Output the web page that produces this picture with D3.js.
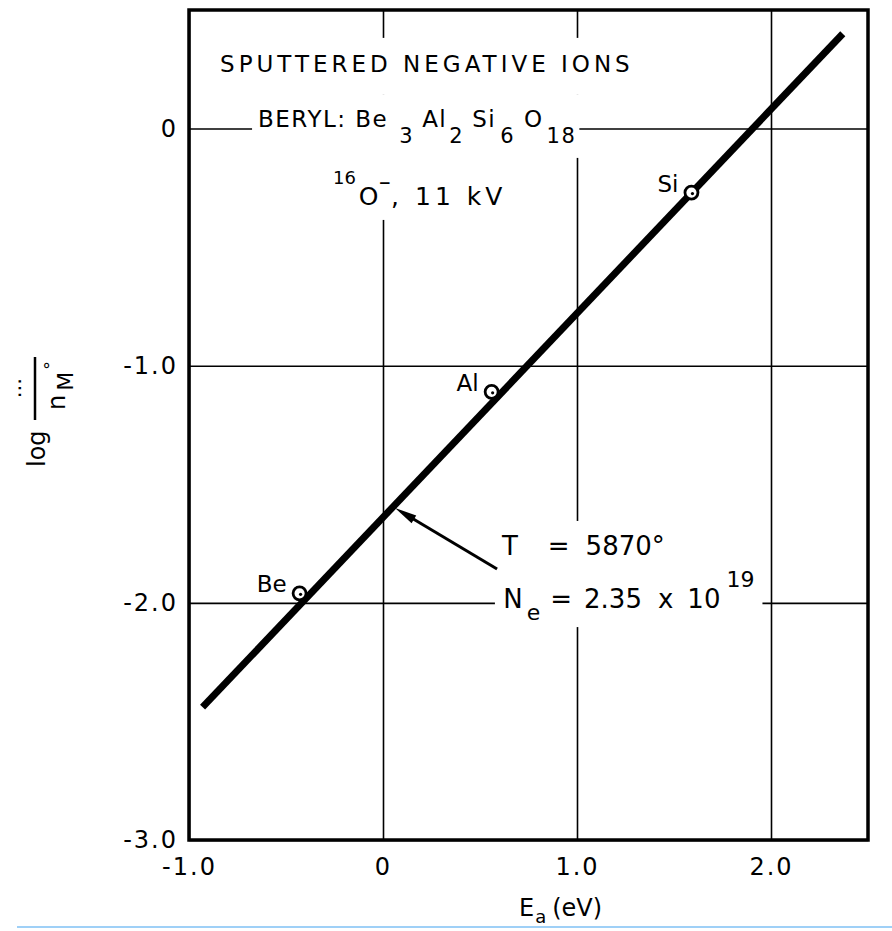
<!DOCTYPE html>
<html>
<head>
<meta charset="utf-8">
<script src="https://cdn.jsdelivr.net/npm/d3@7"></script>
<style>
body { margin: 0; background: #fff; }
svg text { font-family: "DejaVu Sans", sans-serif; fill: #000; }
</style>
</head>
<body>
<div id="container"></div>
<script>
var width = 892;
var height = 931;
var margin = {top: 10, right: 24, bottom: 91, left: 189};

// data
var ions = ["Be", "Al", "Si"];
var electronAffinity = [-0.43, 0.56, 1.59];
var logRatio = [-1.96, -1.11, -0.27];
var fitEa = [-0.93, 2.37];
var fitLog = [-2.44, 0.40];
var xTicks = [-1, 0, 1, 2];
var xTickLabels = ["-1.0", "0", "1.0", "2.0"];
var yTicks = [0, -1, -2, -3];
var yTickLabels = ["0", "-1.0", "-2.0", "-3.0"];

var svg = d3.select("#container").append("svg")
    .attr("width", width)
    .attr("height", height);

svg.append("rect").attr("width", width).attr("height", height).attr("fill", "#fff");

var x = d3.scaleLinear().domain([-1, 2.5]).range([margin.left, width - margin.right]);
var y = d3.scaleLinear().domain([-3, 0.5]).range([height - margin.bottom, margin.top]);
var plotW = x.range()[1] - x.range()[0];
var plotH = y.range()[0] - y.range()[1];

// grid + tick labels
var xAxis = svg.append("g")
    .attr("transform", "translate(0," + y(-3) + ")")
    .call(d3.axisBottom(x).tickValues(xTicks)
        .tickFormat(function(d, i) { return xTickLabels[i]; })
        .tickSize(-plotH).tickPadding(18));
var yAxis = svg.append("g")
    .attr("transform", "translate(" + x(-1) + ",0)")
    .call(d3.axisLeft(y).tickValues(yTicks)
        .tickFormat(function(d, i) { return yTickLabels[i]; })
        .tickSize(-plotW).tickPadding(11));
[xAxis, yAxis].forEach(function(a) {
    a.select(".domain").remove();
    a.attr("color", "#000");
    a.selectAll("line").attr("stroke-width", 1.6);
    a.selectAll("text").style("font-size", "24px").style("letter-spacing", "2px");
});

// white boxes behind annotations (they break the grid)
var maskLayer = svg.append("g");
var textLayer = svg.append("g");
function maskBehind(nodes, pad) {
    var b = nodes.map(function(n) { return n.node().getBBox(); });
    var x0 = d3.min(b, function(d) { return d.x; }) - pad[0];
    var x1 = d3.max(b, function(d) { return d.x + d.width; }) + pad[1];
    var y0 = d3.min(b, function(d) { return d.y; }) - pad[2];
    var y1 = d3.max(b, function(d) { return d.y + d.height; }) + pad[3];
    maskLayer.append("rect")
        .attr("x", x0).attr("y", y0)
        .attr("width", x1 - x0).attr("height", y1 - y0)
        .attr("fill", "#fff");
}

// title block
var t1 = textLayer.append("text")
    .attr("x", x(-0.84)).attr("y", y(0.239))
    .style("font-size", "23px").style("letter-spacing", "4px")
    .text("SPUTTERED NEGATIVE IONS");

var t2 = textLayer.append("text")
    .attr("x", x(-0.644)).attr("y", y(0.007))
    .style("font-size", "23px").style("letter-spacing", "1.5px");
t2.append("tspan").text("BERYL: Be");
t2.append("tspan").attr("dx", 11).attr("dy", 16).style("font-size", "21px").text("3");
t2.append("tspan").attr("dx", 8).attr("dy", -16).text("Al");
t2.append("tspan").attr("dx", 2).attr("dy", 16).style("font-size", "21px").text("2");
t2.append("tspan").attr("dx", 8).attr("dy", -16).text("Si");
t2.append("tspan").attr("dx", 4).attr("dy", 16).style("font-size", "21px").text("6");
t2.append("tspan").attr("dx", 9).attr("dy", -16).text("O");
t2.append("tspan").attr("dx", 3).attr("dy", 16).style("font-size", "21px").text("18");

var t3 = textLayer.append("text")
    .attr("x", x(-0.258)).attr("y", y(-0.322))
    .style("font-size", "25px");
t3.append("tspan").attr("dy", -21).style("font-size", "18px").text("16");
t3.append("tspan").attr("dx", 3).attr("dy", 21).text("O");
t3.append("tspan").attr("dx", 0).attr("dy", -17).style("font-size", "15px").style("font-weight", "bold").text("\u2212");
t3.append("tspan").attr("dy", 17).style("letter-spacing", "4px").text(", 11 kV");

maskBehind([t1], [8, 8, 13, 18]);
maskBehind([t2], [6, 3, 11, 10]);
maskBehind([t3], [8, 8, 13, 9]);

// fit annotation
var a1 = textLayer.append("text")
    .attr("x", x(0.613)).attr("y", y(-1.798))
    .style("font-size", "26px");
a1.append("tspan").text("T");
a1.append("tspan").attr("dx", 30).text("=");
a1.append("tspan").attr("dx", 16).text("5870\u00b0");

var a2 = textLayer.append("text")
    .attr("x", x(0.62)).attr("y", y(-2.022))
    .style("font-size", "26px");
a2.append("tspan").text("N");
a2.append("tspan").attr("dx", 4).attr("dy", 12).style("font-size", "22px").text("e");
a2.append("tspan").attr("dx", 10).attr("dy", -12).text("=");
a2.append("tspan").attr("dx", 12).text("2.35");
a2.append("tspan").attr("dx", 16).text("x");
a2.append("tspan").attr("dx", 14).text("10");
a2.append("tspan").attr("dx", 6).attr("dy", -21).style("font-size", "22px").text("19");

maskBehind([a1, a2], [6, 8, 10, 2]);

// arrow from annotation to the fit line
var arrowTail = [0.588, -1.857];
var arrowHead = [0.062, -1.60];
var hx = x(arrowHead[0]), hy = y(arrowHead[1]);
var tx = x(arrowTail[0]), ty = y(arrowTail[1]);
var ang = Math.atan2(ty - hy, tx - hx);
var headLen = 22, headHalf = 4.5;
svg.append("line")
    .attr("x1", tx).attr("y1", ty)
    .attr("x2", hx + Math.cos(ang) * 15).attr("y2", hy + Math.sin(ang) * 15)
    .attr("stroke", "#000").attr("stroke-width", 3);
svg.append("path")
    .attr("d", "M" + hx + "," + hy +
        "L" + (hx + Math.cos(ang) * headLen - Math.sin(ang) * headHalf) + "," + (hy + Math.sin(ang) * headLen + Math.cos(ang) * headHalf) +
        "L" + (hx + Math.cos(ang) * headLen + Math.sin(ang) * headHalf) + "," + (hy + Math.sin(ang) * headLen - Math.cos(ang) * headHalf) + "Z")
    .attr("fill", "#000");

// fit line
svg.append("path")
    .datum(d3.zip(fitEa, fitLog))
    .attr("d", d3.line().x(function(d) { return x(d[0]); }).y(function(d) { return y(d[1]); }))
    .attr("fill", "none").attr("stroke", "#000").attr("stroke-width", 7);

// measured points
var pts = d3.zip(ions, electronAffinity, logRatio);
svg.selectAll("circle.pt").data(pts).enter().append("circle")
    .attr("class", "pt")
    .attr("cx", function(d) { return x(d[1]); })
    .attr("cy", function(d) { return y(d[2]); })
    .attr("r", 6.5)
    .attr("fill", "#fff").attr("stroke", "#000").attr("stroke-width", 2.8);
svg.selectAll("circle.dot").data(pts).enter().append("circle")
    .attr("class", "dot")
    .attr("cx", function(d) { return x(d[1]) + 1; })
    .attr("cy", function(d) { return y(d[2]) + 1; })
    .attr("r", 1.6).attr("fill", "#000");
svg.selectAll("text.ion").data(pts).enter().append("text")
    .attr("class", "ion")
    .attr("x", function(d) { return x(d[1]) - 13; })
    .attr("y", function(d) { return y(d[2]) - 1; })
    .attr("text-anchor", "end")
    .style("font-size", "23px")
    .text(function(d) { return d[0]; });

// frame
svg.append("rect")
    .attr("x", x(-1)).attr("y", y(0.5))
    .attr("width", plotW).attr("height", plotH)
    .attr("fill", "none").attr("stroke", "#000").attr("stroke-width", 3.5);

// x axis title
var xl = svg.append("text")
    .attr("x", 519).attr("y", 916)
    .style("font-size", "24px");
xl.append("tspan").text("E");
xl.append("tspan").attr("dx", 1).attr("dy", 7).style("font-size", "18px").text("a");
xl.append("tspan").attr("dx", 6).attr("dy", -7).text("(eV)");

// y axis title: log (... / n_M°)
var yl = svg.append("g").attr("transform", "translate(45,467) rotate(-90)");
yl.append("text").attr("x", 0).attr("y", 0).style("font-size", "24px").text("log");
yl.append("line")
    .attr("x1", 47).attr("x2", 110).attr("y1", -10).attr("y2", -10)
    .attr("stroke", "#000").attr("stroke-width", 2.5);
yl.append("text").attr("x", 79).attr("y", -19)
    .attr("text-anchor", "middle").style("font-size", "20px").text("\u22ef");
var den = yl.append("text").attr("x", 57).attr("y", 20).style("font-size", "24px");
den.append("tspan").text("n");
den.append("tspan").attr("dx", 4).attr("dy", 8).style("font-size", "22px").text("M");
den.append("tspan").attr("x", 97).attr("y", 12).style("font-size", "18px").text("\u00b0");

// scan edge line at the bottom
svg.append("line")
    .attr("x1", 17).attr("x2", width).attr("y1", 927).attr("y2", 927)
    .attr("stroke", "#9fd0f7").attr("stroke-width", 2);
</script>
</body>
</html>
